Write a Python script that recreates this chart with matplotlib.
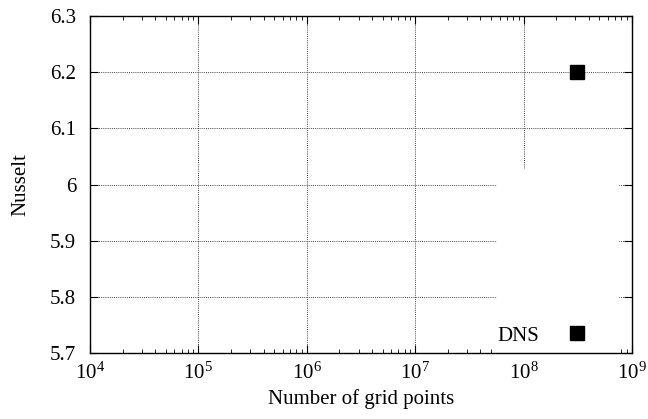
import matplotlib
matplotlib.use("Agg")
import matplotlib.pyplot as plt
from matplotlib.patches import Rectangle
from matplotlib.ticker import LogLocator, FixedLocator

plt.rcParams["font.family"] = ["Liberation Serif", "DejaVu Serif"]
plt.rcParams["mathtext.fontset"] = "custom"
plt.rcParams["mathtext.rm"] = "Liberation Serif"
plt.rcParams["mathtext.it"] = "Liberation Serif:italic"

# data
dns_points = [3.1e8]
dns_nusselt = [6.2]
dns_label = "DNS"

x_range = (1e4, 1e9)
y_range = (5.7, 6.3)
y_ticks = [5.7, 5.8, 5.9, 6.0, 6.1, 6.2, 6.3]
y_ticklabels = ["5.7", "5.8", "5.9", "6", "6.1", "6.2", "6.3"]

fs = 15

fig = plt.figure(figsize=(6.48, 4.19), dpi=100)
ax = fig.add_axes([0.1389, 0.1575, 0.8364, 0.8043])

ax.set_xscale("log")
ax.set_xlim(*x_range)
ax.set_ylim(*y_range)
ax.yaxis.set_major_locator(FixedLocator(y_ticks))
ax.set_yticklabels(y_ticklabels)
ax.xaxis.set_major_locator(LogLocator(base=10, numticks=10))
ax.xaxis.set_minor_locator(LogLocator(base=10, subs=range(2, 10), numticks=20))

ax.grid(True, which="major", color="#444444", linestyle=(0, (1, 1.2)), linewidth=0.7)

# opaque key area like gnuplot
ax.add_patch(Rectangle((0.751, 0.0), 0.225, 0.546, transform=ax.transAxes,
                       facecolor="white", edgecolor="none", zorder=2))

ax.plot(dns_points, dns_nusselt, linestyle="none", marker="s", markersize=10.5,
        color="black", label=dns_label, zorder=3, clip_on=False)

leg = ax.legend(loc="lower right", bbox_to_anchor=(0.952, -0.034), frameon=False,
                markerfirst=False, fontsize=fs, handlelength=1.0, handletextpad=1.3,
                borderpad=0.4)

ax.tick_params(which="both", direction="in", top=True, right=True, labelsize=fs)
ax.tick_params(which="major", length=6, width=0.8)
ax.tick_params(which="minor", length=3, width=0.6)
ax.tick_params(axis="x", pad=7)
ax.tick_params(axis="y", pad=10)
for s in ax.spines.values():
    s.set_linewidth(1.0)
    s.set_zorder(5)

ax.set_xlabel("Number of grid points", fontsize=fs, labelpad=4)
ax.set_ylabel("Nusselt", fontsize=fs, labelpad=14)

fig.savefig("out.png", dpi=100)
